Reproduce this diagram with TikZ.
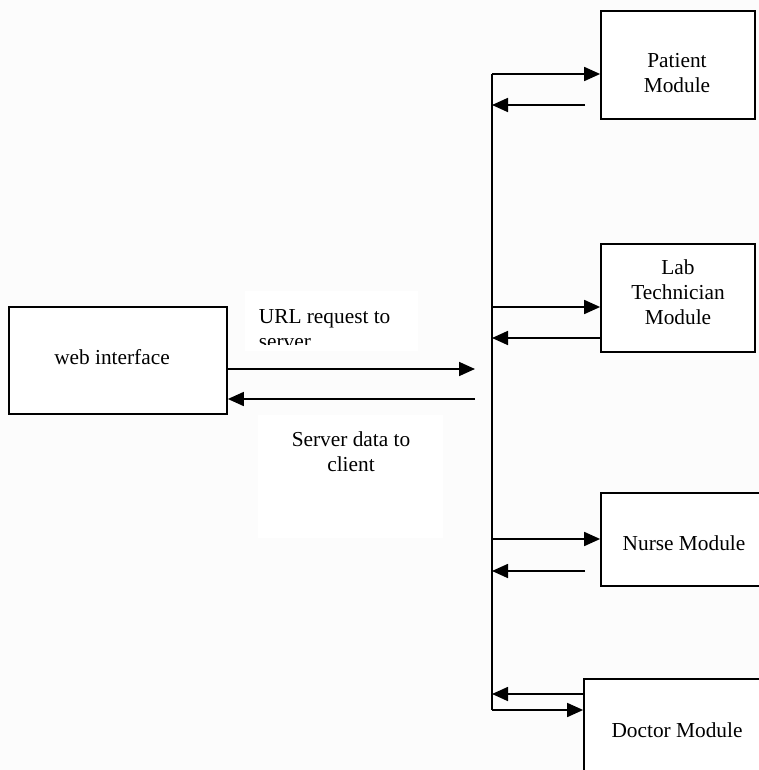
\documentclass[tikz,border=0pt]{standalone}
\usepackage{fontspec}
\setmainfont{Liberation Serif}
\usetikzlibrary{arrows.meta}
\definecolor{bgc}{RGB}{252,252,252}
\begin{document}
\begin{tikzpicture}[x=0.75pt,y=-0.75pt,
  line width=1.3pt,
  arr/.style={-{Triangle[length=12pt,width=10.5pt]}},
  box/.style={draw,line width=1.3pt,fill=white,inner sep=0pt,rectangle},
  tbox/.style={fill=white,inner sep=0pt,rectangle},
  lbl/.style={font=\fontsize{16}{18.75}\selectfont,inner sep=0pt,align=center,anchor=base},
]
\fill[bgc] (0,0) rectangle (759,770);
\useasboundingbox (0,0) rectangle (759,770);
\clip (0,0) rectangle (759,770);

% boxes
\node[box,minimum width=115.5pt,minimum height=81pt] (pat) at (678,65) {};
\node[lbl] (patt) at (677,93) {Patient\\Module};
\node[box,minimum width=115.5pt,minimum height=81pt] (lab) at (678,298) {};
\node[lbl] (labt) at (678,324.5) {Lab\\Technician\\Module};
\node[box,minimum width=134.25pt,minimum height=69.75pt] (nur) at (690.5,539.5) {};
\node[lbl] (nurt) at (684,550.5) {Nurse Module};
\node[box,minimum width=147pt,minimum height=83.25pt] (doc) at (682,734.5) {};
\node[lbl] (doct) at (677,737.5) {Doctor Module};
\node[box,minimum width=163.5pt,minimum height=80.25pt] (web) at (118,360.5) {};
\node[lbl] (webt) at (112,364) {web interface};

% label boxes
\node[tbox,minimum width=129.75pt,minimum height=45pt] (urlbox) at (331.5,321) {};
\begin{scope}
  \clip (245,291) rectangle (418,344);
  \node[lbl,align=left,anchor=base west] (urlt) at (258,348) {URL request to\\server};
\end{scope}
\node[tbox,minimum width=138.75pt,minimum height=92.25pt] (srvbox) at (350.5,476.5) {};
\node[lbl] (srvt) at (351,471.5) {Server data to\\client};

% bus
\coordinate (btop) at (492,74);
\coordinate (bbot) at (492,710);
\draw (btop) -- (bbot);

% patient
\draw[arr] (btop) -- (btop -| pat.west);
\coordinate (pr) at (585,105);
\draw[arr] (pr) -- (pr -| btop);
% lab
\coordinate (b2) at (492,307);
\draw[arr] (b2) -- (b2 -| lab.west);
\coordinate (b3) at (492,338);
\draw[arr] (b3 -| lab.west) -- (b3);
% nurse
\coordinate (b4) at (492,539);
\draw[arr] (b4) -- (b4 -| nur.west);
\coordinate (nr) at (585,571);
\draw[arr] (nr) -- (nr -| btop);
% doctor
\coordinate (b5) at (492,694);
\draw[arr] (b5 -| doc.west) -- (b5);
\draw[arr] (bbot) -- (bbot -| doc.west);
% web
\coordinate (s1) at (475,369);
\draw[arr] (s1 -| web.east) -- (s1);
\coordinate (s2) at (475,399);
\draw[arr] (s2) -- (s2 -| web.east);
\end{tikzpicture}
\end{document}
